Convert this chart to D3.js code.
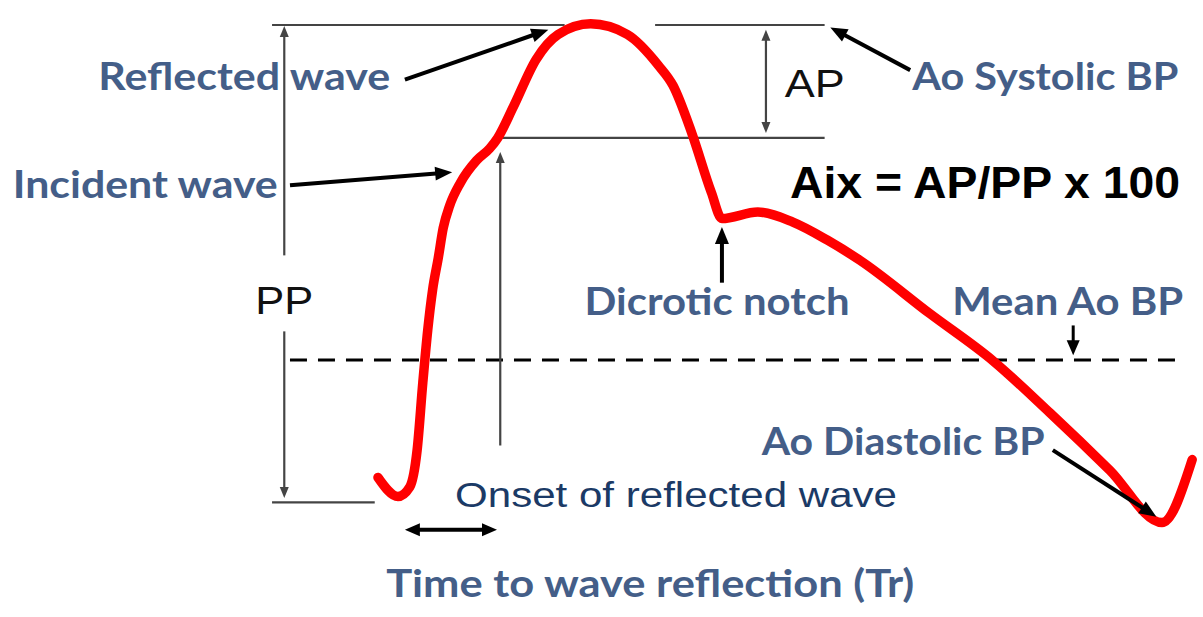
<!DOCTYPE html>
<html>
<head>
<meta charset="utf-8">
<script src="https://cdn.jsdelivr.net/npm/d3@7"></script>
<style>
  html, body { margin: 0; padding: 0; background: #fff; }
  svg { display: block; }
</style>
</head>
<body>
<div id="chart"></div>
<script>
// ---- Data (time in ms from start of beat, aortic pressure in mmHg) ----
const timeMs = [0, 24.5, 39, 48, 55, 61, 67, 74, 80, 88, 101, 121, 137, 147, 166, 194, 221, 261, 306, 344, 362, 385, 409, 422, 466, 509, 551, 591, 677, 755, 825, 898, 962, 999];
const pressure = [81.9, 80.3, 81.1, 84.2, 89.9, 94.3, 97.7, 100.4, 102.9, 104.8, 106.7, 108.6, 109.6, 110.5, 113.1, 117.1, 119.2, 120.1, 119.2, 116.6, 114.9, 110.9, 105.9, 103.7, 104.25, 103.4, 101.9, 100.2, 95.7, 91.7, 87.3, 82.5, 78.1, 83.4];

// key pressure levels
const systolicBP = 120;
const inflectionP = 110.5;
const diastolicBP = 80;
const meanBP = 91.8;
const reflectionOnsetMs = 150;

// labels
const labelTexts = ["Reflected wave", "Incident wave", "Dicrotic notch", "Mean Ao BP", "Ao Systolic BP", "Ao Diastolic BP", "Time to wave reflection (Tr)"];
const formulaText = "Aix = AP/PP x 100";
const apText = "AP";
const ppText = "PP";
const onsetText = "Onset of reflected wave";

// ---- Layout ----
const W = 1203, H = 617;
const svg = d3.select("#chart").append("svg").attr("width", W).attr("height", H);

const x = d3.scaleLinear().domain([0, 1000]).range([378, 1193]);
const y = d3.scaleLinear().domain([80, 120]).range([500, 25]);

const BLUE = "#445e88";
const GRAY = "#444";

function arrowHead(g, x1, y1, x2, y2, len, wid, color) {
  const a = Math.atan2(y2 - y1, x2 - x1);
  const bx = x2 - len * Math.cos(a), by = y2 - len * Math.sin(a);
  const px = -Math.sin(a) * wid / 2, py = Math.cos(a) * wid / 2;
  g.append("polygon")
    .attr("points", `${x2},${y2} ${bx + px},${by + py} ${bx - px},${by - py}`)
    .attr("fill", color);
}
function arrow(g, t1, p1, t2, p2, opt) {
  const x1 = x(t1), y1 = y(p1), x2 = x(t2), y2 = y(p2);
  const a = Math.atan2(y2 - y1, x2 - x1);
  const len = opt.len, wid = opt.wid;
  let sx = x1, sy = y1;
  const ex = x2 - (len - 1) * Math.cos(a), ey = y2 - (len - 1) * Math.sin(a);
  if (opt.both) { sx = x1 + (len - 1) * Math.cos(a); sy = y1 + (len - 1) * Math.sin(a); }
  g.append("line").attr("x1", sx).attr("y1", sy).attr("x2", ex).attr("y2", ey)
    .attr("stroke", opt.color).attr("stroke-width", opt.sw);
  arrowHead(g, x1, y1, x2, y2, len, wid, opt.color);
  if (opt.both) arrowHead(g, x2, y2, x1, y1, len, wid, opt.color);
}
function hline(g, t1, t2, p, color, sw, dash) {
  const l = g.append("line").attr("x1", x(t1)).attr("x2", x(t2)).attr("y1", y(p)).attr("y2", y(p))
    .attr("stroke", color).attr("stroke-width", sw);
  if (dash) l.attr("stroke-dasharray", dash);
}

const gRef = svg.append("g");
// reference horizontal lines
hline(gRef, -130, 229, systolicBP, GRAY, 2.2);
hline(gRef, 340, 548, systolicBP, GRAY, 2.2);
hline(gRef, 144, 548, inflectionP, GRAY, 2.2);
hline(gRef, -130, -4, diastolicBP - 0.2, GRAY, 2.2);
// mean dashed line
hline(gRef, -108, 989, meanBP, "#000", 3, "17,11");

// PP double arrow with gap for label
const thin = { len: 11, wid: 9, sw: 2.2, color: GRAY };
gRef.append("line").attr("x1", x(-115)).attr("x2", x(-115)).attr("y1", y(systolicBP) + 10).attr("y2", y(100.6))
  .attr("stroke", GRAY).attr("stroke-width", 2.2);
arrowHead(gRef, x(-115), y(110), x(-115), y(systolicBP) + 1, 11, 9, GRAY);
gRef.append("line").attr("x1", x(-115)).attr("x2", x(-115)).attr("y1", y(94.2)).attr("y2", y(diastolicBP) - 12)
  .attr("stroke", GRAY).attr("stroke-width", 2.2);
arrowHead(gRef, x(-115), y(90), x(-115), y(diastolicBP) - 2, 11, 9, GRAY);

// AP double arrow
arrow(gRef, 476, 119.6, 476, 110.9, Object.assign({ both: true }, thin));
// onset arrow
arrow(gRef, reflectionOnsetMs, 84.6, reflectionOnsetMs, 109.3, thin);

// ---- Pressure waveform ----
const line = d3.line().x((d, i) => x(timeMs[i])).y(d => y(d)).curve(d3.curveMonotoneX);
svg.append("path").datum(pressure)
  .attr("d", line)
  .attr("fill", "none").attr("stroke", "#ff0000").attr("stroke-width", 9.5)
  .attr("stroke-linejoin", "round").attr("stroke-linecap", "round");

// ---- Black annotation arrows ----
const gA = svg.append("g");
const thick = { len: 17, wid: 14, sw: 4, color: "#000" };
arrow(gA, 33, 115.4, 209, 119.6, thick);          // reflected
arrow(gA, -108, 106.5, 91, 107.6, thick);         // incident
arrow(gA, 653, 116.2, 555, 119.8, thick);         // Ao systolic
arrow(gA, 422, 98.3, 422, 103.0, thick);          // dicrotic
arrow(gA, 853, 94.7, 853, 92.2, Object.assign({}, thick, { len: 15, wid: 13, sw: 3 })); // mean
arrow(gA, 828, 84.2, 955, 78.6, thick);           // diastolic
arrow(gA, 33, 77.5, 146, 77.5, Object.assign({ both: true }, thick, { len: 15, wid: 13 })); // Tr

// ---- Texts ----
const gT = svg.append("g");
function label(txt, t, p, anchor, opt) {
  const el = gT.append("text").attr("x", x(t)).attr("y", y(p)).attr("text-anchor", anchor)
    .attr("font-family", opt.family).attr("font-weight", opt.weight || "normal")
    .attr("font-size", opt.size).attr("fill", opt.color).text(txt);
  if (opt.tl) el.attr("textLength", opt.tl).attr("lengthAdjust", "spacingAndGlyphs");
  return el;
}
const cal = { family: "Lato, 'Open Sans', sans-serif", weight: "bold", size: 38, color: BLUE };
label(labelTexts[0], 15, 114.5, "end", Object.assign({}, cal, { tl: 292 }));
label(labelTexts[1], -123, 105.4, "end", Object.assign({}, cal, { tl: 265 }));
label(labelTexts[2], 416, 95.6, "middle", Object.assign({}, cal, { tl: 265 }));
label(labelTexts[3], 988, 95.6, "end", Object.assign({}, cal, { tl: 231 }));
label(labelTexts[4], 982, 114.5, "end", Object.assign({}, cal, { tl: 266 }));
label(labelTexts[5], 818, 83.8, "end", Object.assign({}, cal, { tl: 283 }));
label(labelTexts[6], 334, 71.8, "middle", Object.assign({}, cal, { tl: 528 }));

const ar = { family: "'Liberation Sans', Arial, sans-serif", size: 38, color: "#111" };
label(formulaText, 984, 105.4, "end", { family: "'Liberation Sans', Arial, sans-serif", weight: "bold", size: 45, color: "#000", tl: 390 });
label(apText, 536, 113.9, "middle", Object.assign({}, ar, { tl: 60 }));
label(ppText, -115, 95.7, "middle", Object.assign({}, ar, { tl: 58 }));
label(onsetText, 94.5, 79.4, "start", { family: "'Liberation Sans', Arial, sans-serif", size: 35, color: "#1b3a66", tl: 442 });
</script>
</body>
</html>
